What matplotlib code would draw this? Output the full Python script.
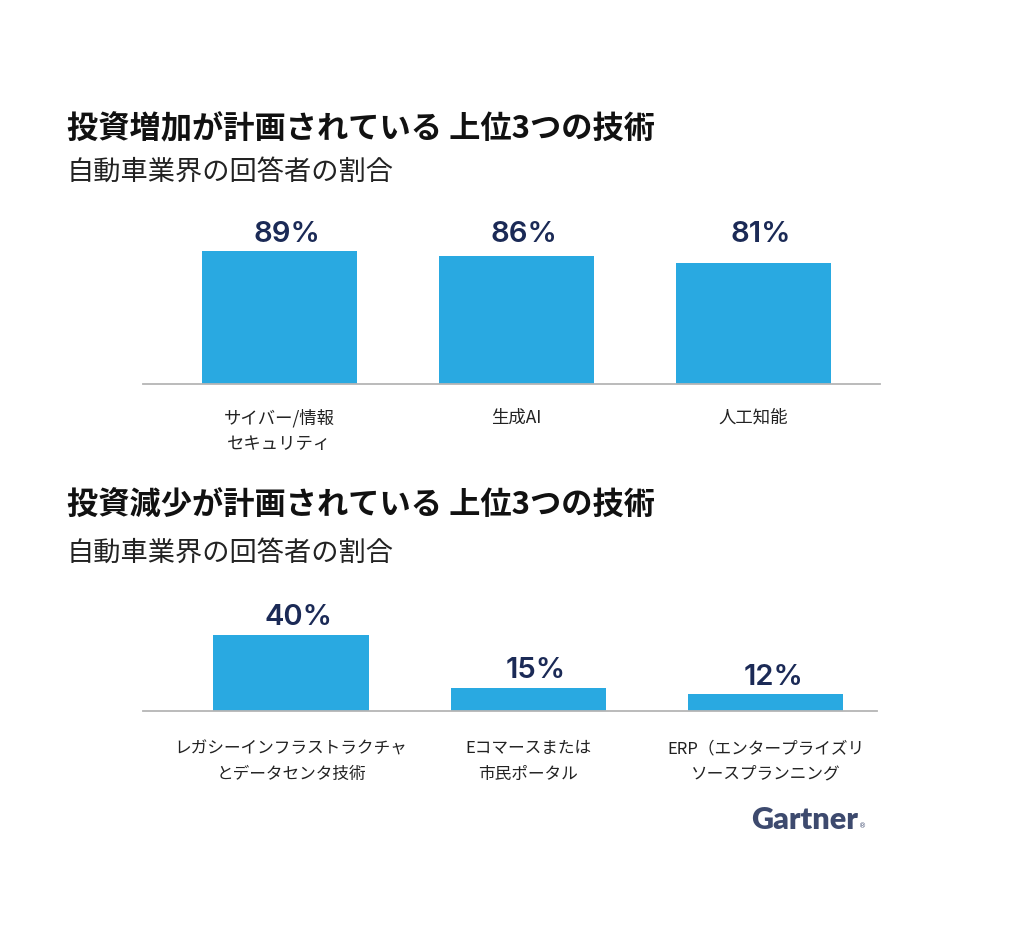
import matplotlib
matplotlib.use('Agg')
import matplotlib.pyplot as plt
import numpy as np

plt.rcParams['font.family'] = ['Noto Sans CJK JP', 'DejaVu Sans']

# data
up_labels = ['サイバー/情報\nセキュリティ', '生成AI', '人工知能']
up_values = [89, 86, 81]
down_labels = ['レガシーインフラストラクチャ\nとデータセンタ技術', 'Eコマースまたは\n市民ポータル',
               'ERP（エンタープライズリ\nソースプランニング']
down_values = [40, 15, 12]

title_up = '投資増加が計画されている 上位3つの技術'
title_down = '投資減少が計画されている 上位3つの技術'
subtitle = '自動車業界の回答者の割合'

BAR_COLOR = '#29A9E1'
NAVY = '#1B2A56'
TEXT = '#222222'
NUM_FONT = ['Inter', 'Lato', 'DejaVu Sans']

fig = plt.figure(figsize=(10.24, 9.31), dpi=100)

def draw_panel(ax, labels, values, xlim, ylim, label_size, pad, lsp, level_labels):
    x = np.arange(len(values))
    bars = ax.bar(x, values, width=0.655, color=BAR_COLOR, zorder=2)
    for b, v in zip(bars, values):
        # top panel has all labels on one line, bottom panel follows bars
        y = max(values) if level_labels else v
        ax.annotate('%d%%' % v, (b.get_x() + b.get_width() / 2, y),
                    xytext=(5.5, 2.5), textcoords='offset points',
                    ha='center', va='bottom', fontsize=21, fontweight='semibold',
                    color=NAVY, family=NUM_FONT, annotation_clip=False)
    ax.set_xlim(*xlim)
    ax.set_ylim(*ylim)
    ax.set_xticks(x)
    ax.set_xticklabels(labels, fontsize=label_size, color=TEXT, linespacing=lsp)
    ax.tick_params(axis='x', length=0, pad=pad)
    ax.set_yticks([])
    for s in ['top', 'left', 'right']:
        ax.spines[s].set_visible(False)
    ax.spines['bottom'].set_color('#B5B5B5')
    ax.spines['bottom'].set_linewidth(1.3)
    ax.spines['bottom'].set_zorder(3)

# top panel
ax1 = fig.add_axes([143 / 1024, 1 - 384 / 931, 737 / 1024, 149.4 / 931])
draw_panel(ax1, up_labels, up_values, (-0.576, 2.534), (0, 100), 12.5, 18, 1.55, True)

# bottom panel (axis starts above zero, as in the source)
ax2 = fig.add_axes([143 / 1024, 1 - 711 / 931, 734 / 1024, 97.5 / 931])
draw_panel(ax2, down_labels, down_values, (-0.624, 2.47), (4, 50), 12, 21, 1.65, False)

# titles
fig.text(67 / 1024, 1 - 129 / 931, title_up, fontsize=22.5, fontweight='bold', color='#111111', va='center')
fig.text(67 / 1024, 1 - 172 / 931, subtitle, fontsize=19.6, color=TEXT, va='center')
fig.text(67 / 1024, 1 - 506 / 931, title_down, fontsize=22.5, fontweight='bold', color='#111111', va='center')
fig.text(67 / 1024, 1 - 553 / 931, subtitle, fontsize=19.6, color=TEXT, va='center')

# logo
fig.text(751 / 1024, 1 - 820 / 931, 'Gartner', fontsize=22, fontweight='heavy', color='#3D4A6E',
         va='center', ha='left', family=['Lato', 'DejaVu Sans'])
fig.text(859 / 1024, 1 - 826 / 931, '®', fontsize=5, color='#3D4A6E', va='center', ha='left',
         family=['DejaVu Sans'])

fig.savefig('out.png', dpi=100, facecolor='white')
